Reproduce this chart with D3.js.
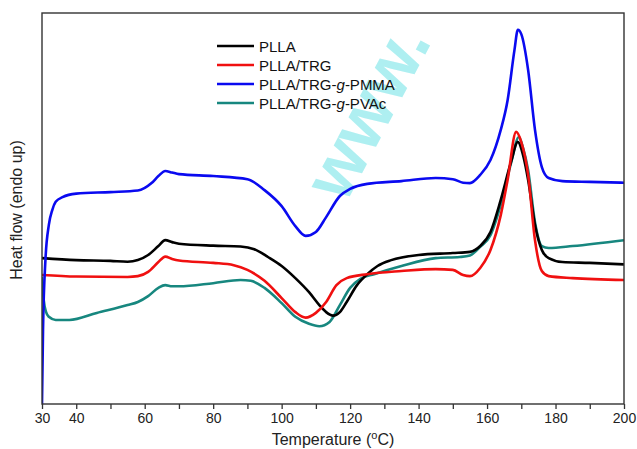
<!DOCTYPE html>
<html>
<head>
<meta charset="utf-8">
<script src="https://cdn.jsdelivr.net/npm/d3@7"></script>
<style>
  body { margin: 0; background: #fff; }
  svg { display: block; font-family: "Liberation Sans", Arial, sans-serif; }
</style>
</head>
<body>
<div id="chart"></div>
<script>
// Temperature (°C) sample points for each DSC trace
var tPMMA = [30, 30.3, 31, 32, 33, 34, 36, 40, 50, 58, 62, 64, 66, 68, 70, 80, 90, 95, 100, 104, 107, 110, 113, 117, 120, 125, 135, 145, 150, 153, 155, 158, 161, 164, 166, 168, 169, 170, 172, 174, 176, 178, 182, 190, 200];
var hPMMA = [0, 18.9, 36.8, 45.8, 49.6, 51.7, 52.9, 53.8, 54.2, 54.6, 56.5, 58.3, 59.6, 59.2, 58.8, 58.3, 57.5, 54.7, 50.6, 45.5, 43.0, 44.0, 47.8, 53.2, 55.0, 56.3, 57.0, 57.8, 57.5, 56.6, 56.5, 58.6, 62.4, 70.1, 77.7, 90.5, 95.7, 94.6, 85.4, 70.1, 60.6, 57.8, 57.0, 56.8, 56.6];

var tPLLA = [30, 40, 50, 55, 58, 61, 64, 66, 68, 70, 80, 88, 92, 96, 100, 104, 108, 111, 113, 115, 117, 119, 122, 125, 128, 132, 140, 150, 155, 158, 161, 164, 167, 169, 170.5, 172, 174, 176, 178, 182, 190, 200];
var hPLLA = [37.3, 36.8, 36.6, 36.4, 36.8, 38.1, 40.4, 41.9, 41.4, 41.0, 40.5, 40.3, 39.6, 37.6, 35.3, 32.2, 28.6, 25.3, 23.5, 22.6, 23.5, 26.1, 30.4, 33.2, 35.3, 36.8, 38.1, 38.6, 38.9, 40.4, 44.0, 52.2, 61.9, 67.0, 63.7, 57.3, 45.8, 39.4, 37.3, 36.3, 36.1, 35.7];

var tTRG = [30, 40, 55, 58, 61, 64, 66, 68, 70, 80, 86, 90, 95, 100, 104, 107, 110, 113, 116, 119, 125, 135, 145, 150, 153, 155, 158, 161, 164, 166, 168.5, 170, 172, 174, 176, 178, 185, 200];
var hTRG = [33.0, 32.6, 32.5, 32.7, 33.8, 36.3, 37.7, 37.1, 36.7, 36.1, 35.5, 34.3, 31.5, 27.1, 23.5, 22.1, 23.3, 26.1, 30.4, 32.2, 33.2, 34.0, 34.5, 34.3, 33.0, 32.7, 34.8, 39.4, 48.3, 57.3, 69.6, 67.0, 58.6, 41.9, 34.0, 32.7, 32.2, 31.7];

var tPVAc = [30, 30.5, 31.2, 32, 34, 38, 46, 55, 58, 61, 64, 66, 68, 70, 80, 88, 91, 95, 100, 104, 108, 111, 114, 117, 120, 123, 127, 135, 145, 152, 155, 158, 161, 164, 167, 169.3, 170.5, 172, 174, 176, 178, 185, 200];
var hPVAc = [32.5, 26.6, 23.5, 22.3, 21.5, 21.5, 23.3, 25.3, 26.1, 27.6, 29.7, 30.4, 30.1, 30.1, 30.9, 31.7, 31.5, 29.7, 25.8, 22.3, 20.5, 19.9, 21.0, 25.3, 29.7, 32.0, 33.2, 35.3, 37.3, 37.6, 38.0, 40.2, 43.2, 51.0, 61.6, 68.3, 65.5, 59.8, 46.5, 40.4, 39.9, 40.4, 41.9];

var seriesNames = ["PLLA", "PLLA/TRG", "PLLA/TRG-g-PMMA", "PLLA/TRG-g-PVAc"];
var xTicks = [30, 40, 50, 60, 70, 80, 90, 100, 110, 120, 130, 140, 150, 160, 170, 180, 190, 200];
var xTickLabels = [30, 40, 60, 80, 100, 120, 140, 160, 180, 200];

var W = 637, H = 449;
var margin = { left: 42, right: 13, top: 13, bottom: 45 };

var svg = d3.select("#chart").append("svg")
    .attr("width", W)
    .attr("height", H);

var x = d3.scaleLinear().domain([30, 200]).range([margin.left, W - margin.right]);
var y = d3.scaleLinear().domain([0, 100]).range([H - margin.bottom, margin.top]);

// watermark behind the curves
svg.append("text")
    .attr("transform", "translate(372,114) rotate(-62)")
    .attr("text-anchor", "middle")
    .attr("dominant-baseline", "middle")
    .style("font-size", "72px")
    .style("font-weight", "bold")
    .style("fill", "#aeeff1")
    .text("www.");

svg.append("clipPath").attr("id", "clip")
  .append("rect")
    .attr("x", margin.left)
    .attr("y", margin.top)
    .attr("width", W - margin.left - margin.right)
    .attr("height", H - margin.top - margin.bottom);

var series = [
    { name: seriesNames[0], t: tPLLA, h: hPLLA, color: "#000000" },
    { name: seriesNames[1], t: tTRG, h: hTRG, color: "#f01010" },
    { name: seriesNames[2], t: tPMMA, h: hPMMA, color: "#0a0af0" },
    { name: seriesNames[3], t: tPVAc, h: hPVAc, color: "#17877f" }
];

var line = d3.line()
    .x(d => x(d[0]))
    .y(d => y(d[1]))
    .curve(d3.curveMonotoneX);

// draw order: PVAc, PLLA, PMMA on top, red on top of black near peak
var order = [3, 0, 1, 2];
svg.append("g").attr("clip-path", "url(#clip)")
  .selectAll("path")
  .data(order.map(i => series[i]))
  .enter().append("path")
    .attr("d", s => line(s.t.map((t, i) => [t, s.h[i]])))
    .attr("fill", "none")
    .attr("stroke", s => s.color)
    .attr("stroke-width", 2.6)
    .attr("stroke-linejoin", "round");

// frame
svg.append("rect")
    .attr("x", margin.left)
    .attr("y", margin.top)
    .attr("width", W - margin.left - margin.right)
    .attr("height", H - margin.top - margin.bottom)
    .attr("fill", "none")
    .attr("stroke", "#333")
    .attr("stroke-width", 1.4);

// x axis
var xAxis = d3.axisBottom(x)
    .tickValues(xTicks)
    .tickSize(5)
    .tickFormat(d => xTickLabels.indexOf(d) >= 0 ? d : "");

var gx = svg.append("g")
    .attr("transform", "translate(0," + (H - margin.bottom) + ")")
    .call(xAxis);
gx.select(".domain").remove();
gx.selectAll(".tick line").attr("stroke", "#333").attr("stroke-width", 1.3);
gx.selectAll(".tick text")
    .attr("y", 9)
    .style("font-family", "'Liberation Sans', Arial, sans-serif")
    .style("font-size", "14px")
    .style("fill", "#222");

// axis titles
var xt = svg.append("text")
    .attr("x", 333)
    .attr("y", 445)
    .attr("text-anchor", "middle")
    .style("font-size", "16px")
    .style("fill", "#222");
xt.append("tspan").text("Temperature (");
xt.append("tspan").attr("dy", -6).style("font-size", "11px").text("o");
xt.append("tspan").attr("dy", 6).text("C)");

svg.append("text")
    .attr("transform", "translate(22,210) rotate(-90)")
    .attr("text-anchor", "middle")
    .style("font-size", "16px")
    .style("fill", "#222")
    .text("Heat flow (endo up)");

// legend
var legend = svg.append("g").attr("transform", "translate(217,46)");
var li = legend.selectAll("g")
    .data(series)
    .enter().append("g")
    .attr("transform", (d, i) => "translate(0," + (i * 19) + ")");
li.append("line")
    .attr("x1", 0).attr("x2", 37)
    .attr("stroke", d => d.color)
    .attr("stroke-width", 2.6);
li.each(function (d) {
    var t = d3.select(this).append("text")
        .attr("x", 42)
        .attr("y", 5.5)
        .style("font-size", "15px")
        .style("fill", "#111");
    var parts = d.name.split("-g-");
    t.append("tspan").text(parts[0]);
    if (parts.length > 1) {
        t.append("tspan").text("-");
        t.append("tspan").style("font-style", "italic").text("g");
        t.append("tspan").text("-" + parts[1]);
    }
});
</script>
</body>
</html>
